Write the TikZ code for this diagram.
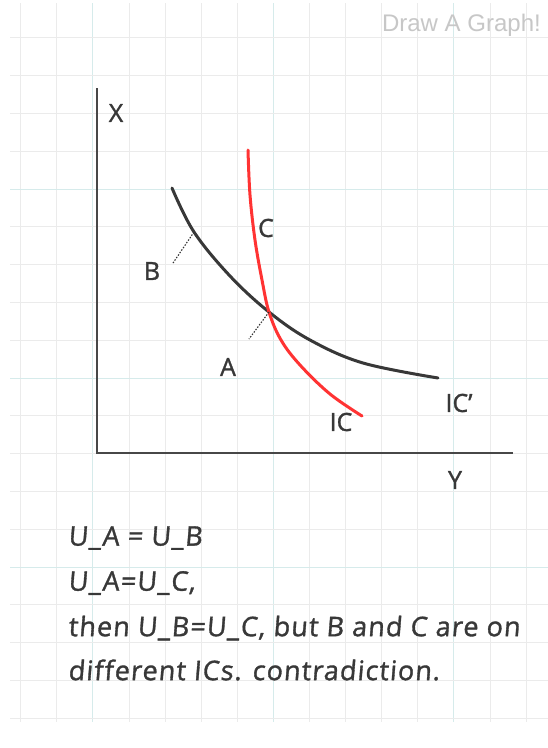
\documentclass[tikz,border=0pt]{standalone}
\usepackage{fontspec}
\setmainfont{Open Sans}[Ligatures=NoCommon]
\newfontfamily\labfont{Open Sans}[FakeBold=1.2]
\newfontfamily\bodyfont{Open Sans}[FakeBold=1.2,FakeSlant=0.08,LetterSpace=4,Ligatures=NoCommon]
\newfontfamily\hdfont{Liberation Sans}
\begin{document}
\begin{tikzpicture}[x=1pt,y=-1pt,
  gridline/.style={draw=black!8,line width=0.8pt},
  gridmajor/.style={draw=teal!16!white,line width=0.9pt},
  axisline/.style={draw=black!72,line width=2.2pt},
  curveblack/.style={draw=black!78,line width=3pt,line cap=round},
  curvered/.style={draw=red!80!white,line width=3pt,line cap=round},
  dotline/.style={draw=black!80,dash pattern=on 1.5pt off 1.5pt,line width=1.1pt},
  lab/.style={font=\labfont\fontsize{25}{25}\selectfont,text=black!78,inner sep=0pt},
  body/.style={font=\bodyfont\fontsize{27}{27}\selectfont,text=black!78,inner sep=0pt,anchor=west}]
\useasboundingbox (0,0) rectangle (548,748);
\fill[white] (0,0) rectangle (548,748);
% grid
\foreach \k in {0,...,14}{
  \pgfmathsetmacro\gx{20.7+36.1*\k}
  \pgfmathtruncatemacro\m{mod(\k,5)}
  \ifnum\m=2 \draw[gridmajor] (\gx,3) -- (\gx,722);
  \else \draw[gridline] (\gx,3) -- (\gx,722); \fi
}
\foreach \k in {1,...,19}{
  \pgfmathsetmacro\gy{37.8*\k}
  \pgfmathtruncatemacro\m{mod(\k,5)}
  \ifnum\m=0 \draw[gridmajor] (10,\gy) -- (548,\gy);
  \else \draw[gridline] (10,\gy) -- (548,\gy); \fi
}
\node[font=\hdfont\fontsize{24}{24}\selectfont,text=black!22,anchor=east,inner sep=0pt] (title) at (541,25) {Draw A Graph!};
% axes
\coordinate (o) at (97,453);
\coordinate (ytop) at (97,88);
\coordinate (xend) at (513,453);
\draw[axisline] (ytop) -- (o) -- (xend);
\node[lab] (xl) at (116,113) {X};
\node[lab] (yl) at (455,480) {Y};
% curves
\coordinate (B) at (194,232);
\coordinate (A) at (269,312);
\draw[curveblack] plot[smooth,tension=0.6] coordinates {(172,188) (194,232) (230,276) (269,312) (310,340) (363,363) (438,378)};
\draw[curvered] plot[smooth,tension=0.6] coordinates {(248,150) (250,195) (255,240) (262,280) (269,312) (281,340) (300,365) (330,394) (362,416)};
\coordinate (Bd) at (173,263);
\coordinate (Ad) at (249,339);
\draw[dotline] (B) -- (Bd);
\draw[dotline] (A) -- (Ad);
\node[lab] (bl) at (152,271) {B};
\node[lab] (al) at (228,367) {A};
\node[lab] (cl) at (266,228) {C};
\node[lab] (icl) at (341,422) {IC};
\node[lab] (icp) at (459,403) {IC’};
% text
\node[body] (t1) at (68,538) {U\_A = U\_B};
\node[body] (t2) at (68,583) {U\_A=U\_C,};
\node[body] (t3) at (68,628) {then U\_B=U\_C, but B and C are on};
\node[body] (t4) at (68,670) {different ICs. contradiction.};
\end{tikzpicture}
\end{document}
